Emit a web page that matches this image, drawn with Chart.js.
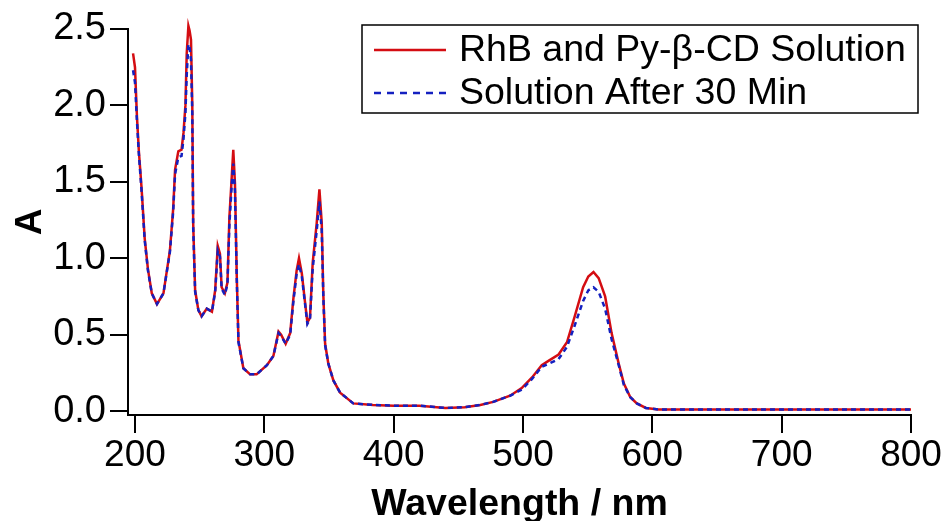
<!DOCTYPE html>
<html>
<head>
<meta charset="utf-8">
<script src="https://cdn.jsdelivr.net/npm/chart.js@4/dist/chart.umd.min.js"></script>
<style>
  html, body { margin: 0; padding: 0; background: #fff; }
</style>
</head>
<body>
<canvas id="chart" width="945" height="521"></canvas>
<script>
// =========================== Data
const wavelengths = [198.5, 200, 201.5, 203, 205, 207.5, 210, 213, 217, 222, 227, 229.5, 231, 233.5, 236, 237.5, 239, 240, 241.3, 242.2, 243.3, 244.3, 245, 246.5, 249, 251.5, 255.5, 259.5, 262, 264, 265.7, 267, 269.5, 271.5, 273, 274.8, 276, 277.3, 278.7, 280, 283.8, 289, 294, 302, 307, 311, 313, 316.5, 320, 322.4, 325, 326.8, 329, 331.5, 333.3, 335.3, 337.4, 340.5, 342.6, 344.4, 345.6, 347, 349.5, 353.4, 358.6, 368.8, 384, 400, 420, 440, 455, 467, 477, 490, 499, 507, 514.5, 520, 527.5, 534, 540, 546.5, 550.5, 554.5, 558.5, 563.5, 568.5, 574, 578, 583, 588, 595, 605, 650, 700, 750, 800]

const rhbPyCD = [2.34, 2.25, 1.93, 1.70, 1.47, 1.13, 0.93, 0.77, 0.70, 0.77, 1.05, 1.32, 1.58, 1.70, 1.71, 1.82, 2.00, 2.34, 2.52, 2.49, 2.43, 2.01, 1.23, 0.79, 0.66, 0.62, 0.67, 0.65, 0.79, 1.08, 1.03, 0.81, 0.77, 0.84, 1.27, 1.53, 1.71, 1.49, 0.88, 0.46, 0.28, 0.24, 0.24, 0.30, 0.36, 0.52, 0.50, 0.44, 0.51, 0.73, 0.92, 1.00, 0.90, 0.71, 0.58, 0.61, 0.97, 1.23, 1.45, 1.23, 0.77, 0.44, 0.31, 0.20, 0.12, 0.05, 0.04, 0.035, 0.035, 0.02, 0.025, 0.04, 0.06, 0.10, 0.15, 0.22, 0.30, 0.33, 0.37, 0.45, 0.62, 0.81, 0.88, 0.91, 0.87, 0.75, 0.51, 0.31, 0.18, 0.09, 0.05, 0.02, 0.01, 0.01, 0.01, 0.01, 0.01]

const after30 = [2.23, 2.15, 1.90, 1.68, 1.45, 1.12, 0.92, 0.77, 0.70, 0.77, 1.04, 1.30, 1.55, 1.66, 1.67, 1.78, 1.95, 2.20, 2.40, 2.38, 2.30, 1.95, 1.20, 0.78, 0.66, 0.62, 0.67, 0.65, 0.78, 1.05, 1.01, 0.80, 0.76, 0.83, 1.22, 1.48, 1.62, 1.44, 0.86, 0.45, 0.28, 0.24, 0.24, 0.30, 0.36, 0.51, 0.49, 0.44, 0.50, 0.71, 0.90, 0.96, 0.88, 0.70, 0.57, 0.60, 0.93, 1.18, 1.37, 1.18, 0.75, 0.43, 0.31, 0.20, 0.12, 0.05, 0.04, 0.035, 0.035, 0.02, 0.025, 0.04, 0.06, 0.10, 0.14, 0.21, 0.29, 0.31, 0.34, 0.42, 0.56, 0.72, 0.79, 0.81, 0.78, 0.67, 0.47, 0.30, 0.17, 0.09, 0.05, 0.02, 0.01, 0.01, 0.01, 0.01, 0.01]

const xTicks = [200, 300, 400, 500, 600, 700, 800]
const yTicks = [0, 0.5, 1.0, 1.5, 2.0, 2.5]

const FONT = '"Liberation Sans", Arial, sans-serif'

// =========================== Legend in a box (top right of plot)
const boxLegend = {
    id: 'boxLegend',
    afterDraw(chart){
        const ctx = chart.ctx
        const a = chart.chartArea
        const x0 = a.left + 234, y0 = a.top - 4, w = 556, h = 88
        ctx.save()
        ctx.fillStyle = '#fff'
        ctx.fillRect(x0, y0, w, h)
        ctx.strokeStyle = '#000'
        ctx.lineWidth = 1.5
        ctx.strokeRect(x0, y0, w, h)
        chart.data.datasets.forEach((ds, i) => {
            const y = y0 + 25 + i * 43
            ctx.beginPath()
            ctx.strokeStyle = ds.borderColor
            ctx.lineWidth = ds.borderWidth
            ctx.setLineDash(ds.legendDash || ds.borderDash || [])
            ctx.moveTo(x0 + 12, y)
            ctx.lineTo(x0 + 84, y)
            ctx.stroke()
            ctx.setLineDash([])
            ctx.fillStyle = '#000'
            ctx.font = '37.5px ' + FONT
            ctx.textBaseline = 'middle'
            ctx.fillText(ds.label, x0 + 97, y + 1)
        })
        ctx.restore()
    }
}

const toPts = ys => wavelengths.map((x, i) => ({x: x, y: ys[i]}))

new Chart(document.getElementById('chart'), {
    type: 'line',
    data: {
        datasets: [{
            label: 'RhB and Py-\u03B2-CD Solution',
            data: toPts(rhbPyCD),
            borderColor: '#d40d12',
            borderWidth: 2.5,
            pointRadius: 0,
            tension: 0,
            clip: false,
            order: 2
        },{
            label: 'Solution After 30 Min',
            data: toPts(after30),
            borderColor: '#1420c0',
            borderWidth: 2.5,
            borderDash: [5, 4],
            legendDash: [7, 6],
            pointRadius: 0,
            tension: 0,
            clip: false,
            order: 1
        }]
    },
    options: {
        responsive: false,
        animation: false,
        layout: { padding: { top: 29, right: 34, left: 0, bottom: 0 } },
        plugins: {
            legend: { display: false },
            tooltip: { enabled: false }
        },
        scales: {
            x: {
                type: 'linear',
                min: 194.6,
                max: 800,
                afterBuildTicks: s => { s.ticks = xTicks.map(v => ({value: v})) },
                afterFit: s => { s.height = 106 },
                grid: { drawOnChartArea: false, color: '#000', lineWidth: 2, tickLength: 18 },
                border: { display: true, color: '#000', width: 2 },
                ticks: { color: '#000', padding: 1, maxRotation: 0, font: { family: FONT, size: 37 } },
                title: {
                    display: true,
                    text: 'Wavelength / nm',
                    color: '#000',
                    padding: { top: 0, bottom: -2 },
                    font: { family: FONT, size: 37.5, weight: 'bold', lineHeight: 1 }
                }
            },
            y: {
                min: -0.026,
                max: 2.5,
                afterBuildTicks: s => { s.ticks = yTicks.map(v => ({value: v})) },
                afterFit: s => { s.width = 128 },
                grid: { drawOnChartArea: false, color: '#000', lineWidth: 2, tickLength: 18 },
                border: { display: true, color: '#000', width: 2 },
                ticks: {
                    color: '#000',
                    padding: 4,
                    font: { family: FONT, size: 38 },
                    callback: v => v.toFixed(1)
                },
                title: {
                    display: true,
                    text: 'A',
                    color: '#000',
                    padding: { top: 12, bottom: 0 },
                    font: { family: FONT, size: 37, weight: 'bold', lineHeight: 1 }
                }
            }
        }
    },
    plugins: [boxLegend]
})
</script>
</body>
</html>
